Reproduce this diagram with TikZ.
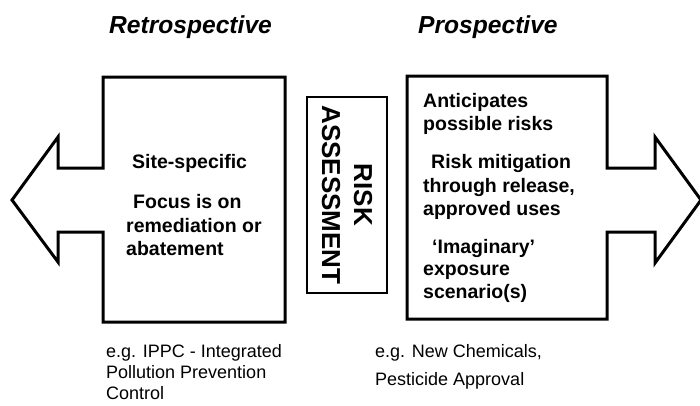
\documentclass[tikz,border=0pt]{standalone}
\usepackage{fontspec}
\setmainfont{Liberation Sans}
\begin{document}
\begin{tikzpicture}[x=1pt,y=-1pt,
  bigarrow/.style={draw=black, line width=3pt, line join=miter, fill=white},
  heading/.style={font=\fontsize{24.6}{28}\selectfont\bfseries\itshape, anchor=base west, inner sep=0pt},
  boxtext/.style={font=\fontsize{19.5}{23}\selectfont\bfseries, anchor=base west, inner sep=0pt},
  note/.style={font=\fontsize{18}{21}\selectfont, anchor=base west, inner sep=0pt},
  riskbox/.style={draw=black, line width=1.2pt, fill=white, rotate=-90,
    minimum width=196pt, minimum height=80pt, inner sep=0pt, align=center,
    font=\fontsize{26}{32}\selectfont\bfseries}
]
\useasboundingbox (0,0) rectangle (700,405);

% headings
\node[heading] (retro) at (109,33) {Retrospective};
\node[heading] (prosp) at (418,33) {Prospective};

% left block arrow (retrospective)
\path[bigarrow] (103,77) -- (285,77) -- (285,322) -- (103,322) -- (103,232)
  -- (58,232) -- (58,262) -- (12,200) -- (58,137) -- (58,168) -- (103,168) -- cycle;

% right block arrow (prospective)
\path[bigarrow] (407,76) -- (607,76) -- (607,168) -- (655,168) -- (655,137)
  -- (701,200) -- (655,263) -- (655,232) -- (607,232) -- (607,319) -- (407,319) -- cycle;

% central label
\node[riskbox] (risk) at (347,195) {RISK\\ASSESSMENT};

% retrospective box text
\node[boxtext] (l1) at (132,168) {Site-specific};
\node[boxtext] (l2) at (133,208) {Focus is on};
\node[boxtext] (l3) at (126,232) {remediation or};
\node[boxtext] (l4) at (126,255) {abatement};

% prospective box text
\node[boxtext] (r1) at (423,107) {Anticipates};
\node[boxtext] (r2) at (423,130) {possible risks};
\node[boxtext] (r3) at (431,168) {Risk mitigation};
\node[boxtext] (r4) at (423,192) {through release,};
\node[boxtext] (r5) at (423,215) {approved uses};
\node[boxtext] (r6) at (432,253) {‘Imaginary’};
\node[boxtext] (r7) at (423,275) {exposure};
\node[boxtext] (r8) at (423,298) {scenario(s)};

% examples below
\node[note] (n1) at (106,357) {e.g. IPPC - Integrated};
\node[note] (n2) at (106,378) {Pollution Prevention};
\node[note] (n3) at (106,399) {Control};
\node[note] (n4) at (375,357) {e.g. New Chemicals,};
\node[note] (n5) at (375,385) {Pesticide Approval};
\end{tikzpicture}
\end{document}
